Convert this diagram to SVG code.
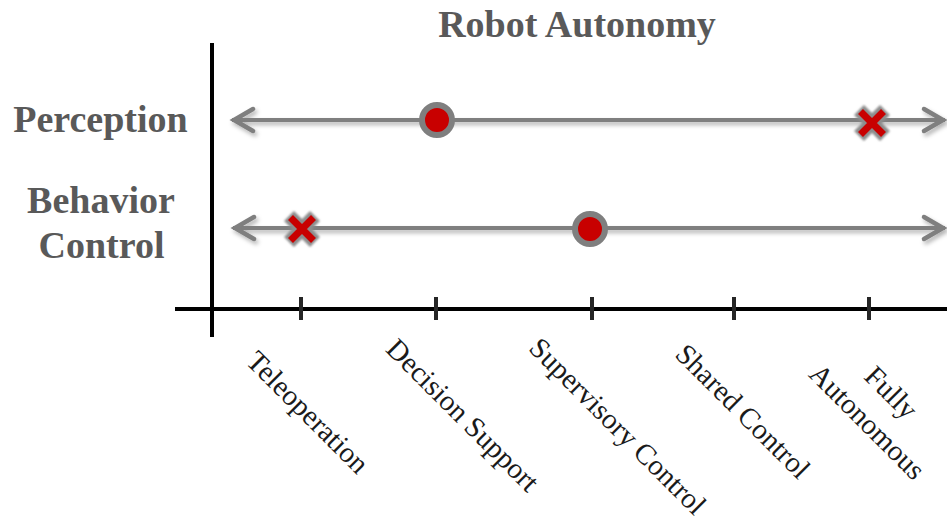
<svg xmlns="http://www.w3.org/2000/svg" width="947" height="521" viewBox="0 0 947 521">
  <defs>
    <style>
      .title { font-family: "Liberation Serif", "Times New Roman", serif; font-weight: bold; font-size: 38px; fill: #595959; text-anchor: middle; }
      .rowlbl { font-family: "Liberation Serif", "Times New Roman", serif; font-weight: bold; font-size: 38px; fill: #595959; text-anchor: middle; }
      .ticklbl { font-family: "Liberation Serif", "Times New Roman", serif; font-size: 29px; fill: #1a1a1a; text-anchor: middle; }
      .axis { stroke: #000; stroke-width: 4; fill: none; }
      .tick { stroke: #262626; stroke-width: 4; fill: none; }
      .track { stroke: #7f7f7f; stroke-width: 4; fill: none; }
      .ring { fill: #c80000; stroke: #7f7f7f; stroke-width: 6; }
      .xhalo { stroke: #8c8c8c; stroke-width: 14; fill: none; }
      .xred { stroke: #c80000; stroke-width: 7; fill: none; }
    </style>
    <filter id="shadow" filterUnits="userSpaceOnUse" x="0" y="0" width="947" height="521">
      <feDropShadow dx="2" dy="3" stdDeviation="2" flood-color="#000" flood-opacity="0.3"/>
    </filter>
    <filter id="soft" x="-50%" y="-50%" width="200%" height="200%">
      <feGaussianBlur stdDeviation="1.3"/>
    </filter>
    <marker id="open" viewBox="-25 -15 30 30" refX="0" refY="0" markerWidth="30" markerHeight="30" markerUnits="userSpaceOnUse" orient="auto-start-reverse">
      <path d="M -21 -11 L -2 0 L -21 11" fill="none" stroke="#7f7f7f" stroke-width="4.5" stroke-linecap="round" stroke-linejoin="miter"/>
    </marker>
    <g id="xmark">
      <path class="xhalo" d="M -13 -13 L 13 13 M -13 13 L 13 -13" filter="url(#soft)"/>
      <path class="xred" d="M -11.5 -11.5 L 11.5 11.5 M -11.5 11.5 L 11.5 -11.5"/>
    </g>
  </defs>

  <rect x="0" y="0" width="947" height="521" fill="#fff"/>

  <g id="title">
    <text class="title" x="577" y="37">Robot Autonomy</text>
  </g>

  <g id="axes">
    <line class="axis" x1="212" y1="43" x2="212" y2="337"/>
    <line class="axis" x1="175" y1="309" x2="947" y2="309"/>
    <line class="tick" x1="301" y1="297" x2="301" y2="320"/>
    <line class="tick" x1="436" y1="297" x2="436" y2="320"/>
    <line class="tick" x1="592" y1="297" x2="592" y2="320"/>
    <line class="tick" x1="734" y1="297" x2="734" y2="320"/>
    <line class="tick" x1="869" y1="297" x2="869" y2="320"/>
  </g>

  <g id="label-perception">
    <text class="rowlbl" x="100.5" y="132">Perception</text>
  </g>
  <g id="label-behavior-control">
    <text class="rowlbl" x="101" y="213">Behavior</text>
    <text class="rowlbl" x="101.5" y="258">Control</text>
  </g>

  <g id="connectors" filter="url(#shadow)">
    <path class="track" d="M 232 120 L 945 120" marker-start="url(#open)" marker-end="url(#open)"/>
    <path class="track" d="M 233 228 L 945 228" marker-start="url(#open)" marker-end="url(#open)"/>
  </g>

  <g id="perception-circle">
    <circle class="ring" cx="437" cy="120" r="15"/>
  </g>
  <g id="perception-x">
    <use href="#xmark" transform="translate(872,123)"/>
  </g>
  <g id="behavior-x">
    <use href="#xmark" transform="translate(302,229)"/>
  </g>
  <g id="behavior-circle">
    <circle class="ring" cx="590" cy="229" r="15"/>
  </g>

  <g id="tick-teleoperation">
    <text class="ticklbl" transform="translate(301,419) rotate(45)">Teleoperation</text>
  </g>
  <g id="tick-decision-support">
    <text class="ticklbl" transform="translate(456,422) rotate(45)">Decision Support</text>
  </g>
  <g id="tick-supervisory-control">
    <text class="ticklbl" transform="translate(611,433) rotate(45)">Supervisory Control</text>
  </g>
  <g id="tick-shared-control">
    <text class="ticklbl" transform="translate(736,418) rotate(45)">Shared Control</text>
  </g>
  <g id="tick-fully-autonomous">
    <text class="ticklbl" transform="translate(887,402) rotate(45)">
      <tspan x="0" y="0">Fully</tspan>
      <tspan x="0" y="37.5">Autonomous</tspan>
    </text>
  </g>
</svg>
